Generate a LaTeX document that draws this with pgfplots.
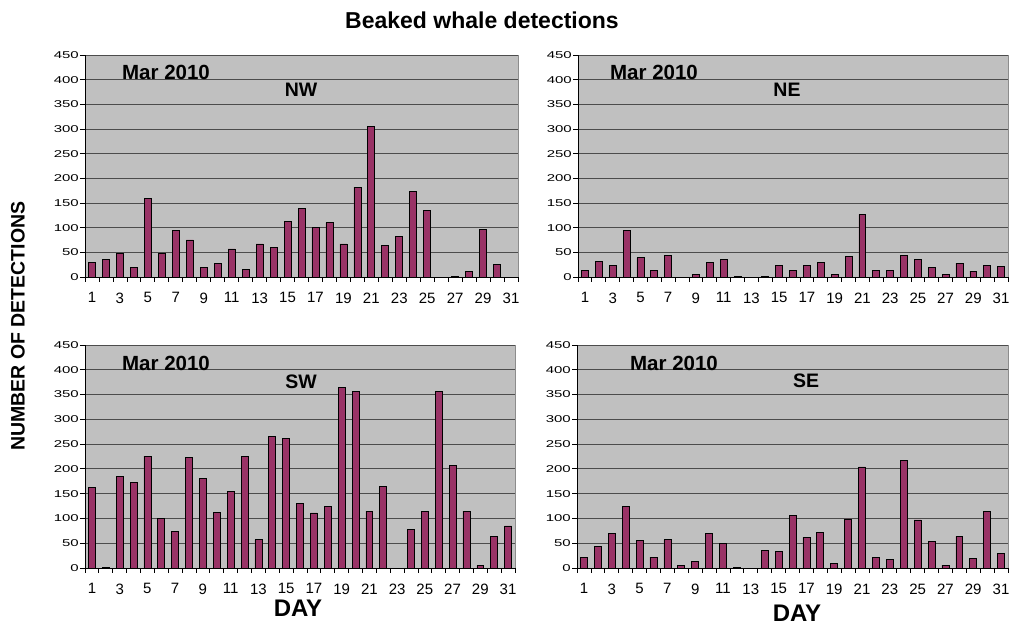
\documentclass[border=0pt]{standalone}
\usepackage{pgfplots}
\pgfplotsset{compat=1.18}
\usepackage{fontspec}
\setmainfont{Liberation Sans}
\definecolor{barc}{HTML}{993366}
\definecolor{plotbg}{HTML}{C0C0C0}
\definecolor{edgec}{HTML}{8C8C8C}
\pgfplotsset{panel/.style={
  scale only axis, anchor=south west,
  xmin=0.5, xmax=31.5, ymin=0, ymax=450,
  axis lines*=left,
  axis line style={black, line width=0.8pt},
  axis background/.style={fill=plotbg, draw=edgec, line width=0.8pt},
  ymajorgrids, grid style={black!70, line width=0.9pt},
  ytick={0,50,...,450}, xtick={1,3,...,31},
  minor xtick={0.5,1.5,...,31.5},
  tick align=outside, major tick length=5pt, minor tick length=5pt,
  tick style={black, line width=0.8pt},
  major x tick style={draw=none},
  minor x tick style={black, line width=0.8pt},
  xticklabel style={font=\fontsize{15}{15}\selectfont, yshift=-7pt, /pgf/number format/assume math mode=true},
  yticklabel={\scalebox{1}[0.66]{\pgfmathprintnumber[assume math mode=true]{\tick}}},
  yticklabel style={font=\fontsize{15}{15}\selectfont, inner sep=1pt},
  clip=false,
}}
\begin{document}
\begin{tikzpicture}[x=1pt,y=1pt]
\useasboundingbox (0,0) rectangle (1010,632);
% NW
\begin{axis}[panel, at={(85pt,355pt)}, width=433pt, height=222pt]
\addplot[ybar, bar width=0.5, fill=barc, draw=black, line width=0.7pt] coordinates {
(1,30) (2,35) (3,48) (4,20) (5,160) (6,47) (7,95) (8,75) (9,20) (10,28)
(11,57) (12,16) (13,67) (14,60) (15,113) (16,139) (17,100) (18,110) (19,67) (20,182)
(21,305) (22,64) (23,83) (24,173) (25,135) (27,2) (28,12) (29,97) (30,26)};
\end{axis}
% NE
\begin{axis}[panel, at={(578pt,355pt)}, width=430pt, height=222pt]
\addplot[ybar, bar width=0.5, fill=barc, draw=black, line width=0.7pt] coordinates {
(1,14) (2,32) (3,23) (4,95) (5,39) (6,14) (7,43) (9,5) (10,30)
(11,35) (12,2) (14,2) (15,23) (16,14) (17,23) (18,30) (19,5) (20,42)
(21,127) (22,14) (23,14) (24,44) (25,35) (26,19) (27,5) (28,28) (29,12) (30,23) (31,21)};
\end{axis}
% SW
\begin{axis}[panel, at={(85pt,64pt)}, width=430pt, height=223pt]
\addplot[ybar, bar width=0.5, fill=barc, draw=black, line width=0.7pt] coordinates {
(1,163) (2,2) (3,184) (4,172) (5,226) (6,100) (7,74) (8,223) (9,180) (10,113)
(11,155) (12,226) (13,57) (14,265) (15,262) (16,130) (17,111) (18,124) (19,364) (20,357)
(21,115) (22,164) (24,78) (25,115) (26,357) (27,207) (28,115) (29,5) (30,64) (31,85)};
\end{axis}
% SE
\begin{axis}[panel, at={(577pt,64pt)}, width=431pt, height=223pt]
\addplot[ybar, bar width=0.5, fill=barc, draw=black, line width=0.7pt] coordinates {
(1,22) (2,43) (3,69) (4,124) (5,55) (6,22) (7,57) (8,6) (9,13) (10,69)
(11,50) (12,2) (14,36) (15,34) (16,106) (17,62) (18,71) (19,9) (20,99)
(21,204) (22,22) (23,18) (24,217) (25,97) (26,53) (27,6) (28,64) (29,20) (30,115) (31,29)};
\end{axis}
% texts
\node[font=\fontsize{23}{23}\selectfont\bfseries] at (482,612) {Beaked whale detections};
\node[font=\fontsize{20.5}{20.5}\selectfont\bfseries] at (166,560) {Mar 2010};
\node[font=\fontsize{19.5}{19.5}\selectfont\bfseries] at (301,542) {NW};
\node[font=\fontsize{20.5}{20.5}\selectfont\bfseries] at (654,560) {Mar 2010};
\node[font=\fontsize{19.5}{19.5}\selectfont\bfseries] at (787,542) {NE};
\node[font=\fontsize{20.5}{20.5}\selectfont\bfseries] at (166,269) {Mar 2010};
\node[font=\fontsize{19.5}{19.5}\selectfont\bfseries] at (301,250) {SW};
\node[font=\fontsize{20.5}{20.5}\selectfont\bfseries] at (674,269) {Mar 2010};
\node[font=\fontsize{19.5}{19.5}\selectfont\bfseries] at (806,251) {SE};
\node[font=\fontsize{19.5}{19.5}\selectfont\bfseries, rotate=90] at (18,306) {NUMBER OF DETECTIONS};
\node[font=\fontsize{24}{24}\selectfont\bfseries] at (298,24) {DAY};
\node[font=\fontsize{24}{24}\selectfont\bfseries] at (797,19) {DAY};
\end{tikzpicture}
\end{document}
